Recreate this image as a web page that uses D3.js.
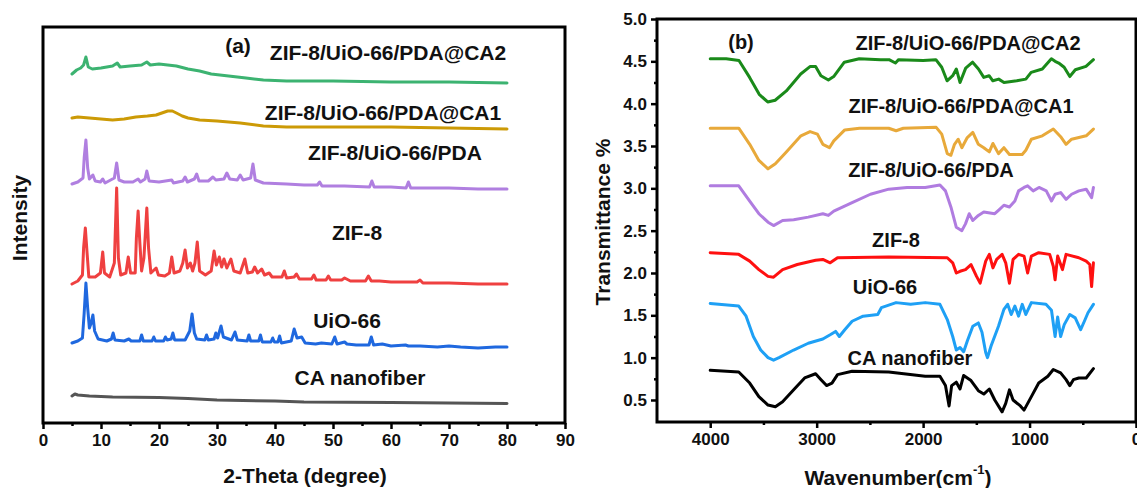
<!DOCTYPE html>
<html>
<head>
<meta charset="utf-8">
<script src="https://cdn.jsdelivr.net/npm/d3@7"></script>
<style>
  html, body { margin: 0; padding: 0; background: #fff; }
  svg text { font-family: "Liberation Sans", Arial, sans-serif; font-weight: bold; fill: #111; }
</style>
</head>
<body>
<svg id="chart" width="1137" height="488"></svg>
<script>
// ---------- (a) XRD patterns: [2-theta (deg), intensity (a.u., stacked)] ----------
const xrdCA = [[5,27],[5.5,29],[6,28],[8,27],[12,26],[20,25.5],[25,24.5],[30,23],[40,22],[45,21],[60,20.5],[70,20],[80,19.5]];
const xrdUiO = [[5,80],[6,82],[6.8,85],[7.1,110],[7.4,140],[7.7,115],[8.0,95],[8.3,100],[8.6,108],[8.9,92],[9.5,84],[11,82],[11.8,84],[12.1,90],[12.4,83],[14,82],[14.8,84],[15.2,82],[16.7,82],[17.0,88],[17.3,82],[18.8,82],[19.1,86],[19.4,82],[20.8,82],[21.1,86],[21.4,83],[22.1,84],[22.4,90],[22.7,83],[24.5,83],[25.3,92],[25.7,109],[26.1,90],[26.5,84],[27.9,83],[28.2,88],[28.5,83],[29.5,84],[29.8,90],[30.1,85],[30.7,97],[31.1,86],[32.5,83],[33.1,91],[33.5,83],[35.2,82],[35.5,88],[35.8,82],[37.2,82],[37.5,88],[37.8,81],[39.3,81],[39.6,85],[39.9,81],[40.5,81],[40.8,87],[41.1,80],[42.8,82],[43.3,94],[43.8,85],[44.6,86],[45.2,80],[47,79],[48,80],[49.8,79],[50.3,86],[50.7,79],[52,81],[52.4,79],[54,78],[56.2,78],[56.6,86],[57,78],[58.5,79],[60,77],[62.5,78],[63,77],[65,77],[68,76],[70,77],[72,76],[75,75],[78,76],[80,76]];
const xrdZIF = [[5,139],[6,142],[6.8,148],[7.0,175],[7.3,195],[7.6,170],[7.9,146],[9,146],[9.9,150],[10.3,171],[10.6,150],[11.5,146],[12.3,160],[12.7,235],[13.0,165],[13.4,148],[14.3,150],[14.7,166],[15.1,150],[15.9,150],[16.1,185],[16.4,212],[16.7,180],[17.0,152],[17.4,165],[17.9,215],[18.2,175],[18.6,150],[19.5,155],[19.9,148],[21.0,147],[21.8,150],[22.2,166],[22.6,150],[23.6,152],[24.1,160],[24.5,173],[24.9,155],[25.4,160],[25.8,152],[26.2,160],[26.6,181],[27.0,152],[28.0,148],[29.0,152],[29.5,172],[29.9,158],[30.4,166],[30.8,156],[31.2,164],[31.7,155],[32.4,164],[32.9,152],[34.0,150],[34.8,164],[35.3,150],[36.1,151],[36.5,156],[37.0,150],[37.7,154],[38.2,148],[39.0,150],[39.5,146],[41.2,146],[41.6,152],[42.0,145],[43.3,146],[43.7,149],[44.2,144],[46.3,144],[46.7,148],[47.1,143],[48.8,143],[49.2,147],[49.6,143],[51.5,143],[52.0,145],[53,142],[55.6,142],[56.1,147],[56.6,142],[58,142],[60,141],[62,141],[64.5,141],[65,143],[65.5,140],[70,140],[75,139],[80,139]];
const xrdPDA = [[5,239],[6,241],[6.9,245],[7.1,265],[7.4,283],[7.7,255],[8.0,244],[8.6,248],[9.0,242],[9.9,241],[10.3,244],[10.7,240],[12.3,245],[12.7,260],[13.1,243],[14,241],[15.5,241],[16.4,244],[16.8,241],[17.6,244],[17.9,252],[18.3,242],[20,241],[22.2,243],[22.5,240],[24.1,242],[24.5,246],[24.9,241],[26.1,244],[26.5,249],[26.9,242],[28.5,242],[29.3,246],[29.8,243],[31.2,244],[31.7,250],[32.2,244],[33.5,243],[34.0,248],[34.5,243],[35.8,245],[36.2,259],[36.6,243],[38,240],[42,239],[45,238],[47.3,238],[47.7,241],[48.1,237],[52,237],[56.3,236],[56.7,242],[57.1,236],[60,236],[62.6,235],[63.0,241],[63.4,235],[66,235],[70,235],[75,234],[80,234]];
const xrdCA1 = [[5,305],[6,306],[8,305],[10,304],[12,303],[14,304],[16,306],[18,307],[19.5,308],[20.5,310],[21.5,312],[22.3,312],[23,310],[24,307],[25,305],[27,303],[30,302],[34,300],[38,297],[42,296],[50,296],[60,296],[70,295],[80,294]];
const xrdCA2 = [[5,349],[5.8,353],[6.5,355],[7.0,358],[7.4,366],[7.8,356],[8.5,354],[10,355],[12,357],[12.8,360],[13.3,356],[15,357],[17,358],[17.9,361],[18.5,358],[20,359],[21.5,358],[23,357],[25,354],[27,352],[29,349],[32,347],[35,345],[38,343],[42,342],[50,342],[60,341],[70,341],[80,340]];

// ---------- (b) FTIR spectra: [wavenumber (cm-1), transmittance (stacked)] ----------
const irCA2 = [[4000,4.53],[3850,4.53],[3730,4.51],[3630,4.31],[3540,4.11],[3460,4.02],[3390,4.04],[3285,4.15],[3150,4.35],[3060,4.44],[3010,4.44],[2960,4.33],[2890,4.28],[2840,4.32],[2740,4.49],[2600,4.53],[2400,4.52],[2320,4.52],[2260,4.48],[2230,4.52],[2000,4.51],[1880,4.52],[1825,4.43],[1775,4.27],[1722,4.33],[1688,4.41],[1653,4.25],[1600,4.42],[1535,4.49],[1480,4.41],[1430,4.31],[1380,4.33],[1345,4.27],[1290,4.29],[1240,4.25],[1120,4.27],[1035,4.29],[985,4.37],[880,4.41],[795,4.53],[760,4.5],[726,4.48],[675,4.43],[622,4.32],[570,4.4],[470,4.44],[400,4.52]];
const irCA1 = [[4000,3.71],[3732,3.71],[3629,3.52],[3543,3.33],[3457,3.23],[3388,3.29],[3285,3.43],[3148,3.62],[3062,3.67],[2993,3.64],[2942,3.52],[2880,3.48],[2839,3.56],[2736,3.69],[2598,3.71],[2323,3.71],[2254,3.68],[2186,3.71],[1877,3.72],[1825,3.64],[1773,3.41],[1739,3.39],[1705,3.52],[1670,3.58],[1636,3.48],[1585,3.6],[1533,3.66],[1481,3.52],[1430,3.48],[1378,3.43],[1344,3.53],[1292,3.41],[1241,3.48],[1189,3.40],[1069,3.40],[1035,3.45],[983,3.58],[880,3.62],[777,3.70],[708,3.61],[657,3.52],[605,3.58],[468,3.62],[400,3.70]];
const irPDA = [[4000,3.03],[3732,3.03],[3629,2.85],[3543,2.70],[3457,2.60],[3405,2.56],[3320,2.62],[3216,2.63],[3079,2.66],[2942,2.70],[2890,2.68],[2839,2.73],[2667,2.83],[2495,2.93],[2323,2.99],[2151,3.01],[1980,3.01],[1842,3.04],[1790,2.97],[1739,2.78],[1688,2.54],[1636,2.50],[1602,2.58],[1567,2.70],[1533,2.62],[1481,2.68],[1430,2.72],[1327,2.70],[1292,2.74],[1241,2.80],[1189,2.78],[1138,2.85],[1103,2.97],[1052,3.01],[1018,3.03],[966,2.97],[911,3.01],[843,2.97],[794,2.85],[760,2.93],[708,2.95],[657,2.87],[605,2.93],[537,2.97],[468,2.99],[417,2.89],[400,3.01]];
const irZIF = [[4000,2.24],[3732,2.22],[3629,2.14],[3543,2.04],[3457,1.96],[3405,1.95],[3320,2.04],[3182,2.10],[3010,2.15],[2942,2.16],[2873,2.12],[2804,2.18],[2323,2.19],[1773,2.18],[1722,2.12],[1688,2.0],[1653,2.02],[1602,2.04],[1550,2.10],[1498,1.96],[1464,1.88],[1412,2.14],[1378,2.22],[1344,2.06],[1309,2.16],[1258,2.22],[1224,2.12],[1189,1.88],[1155,2.16],[1103,2.22],[1052,2.20],[1018,2.0],[983,2.20],[914,2.24],[811,2.22],[777,2.08],[760,1.92],[736,2.20],[691,2.04],[657,2.22],[537,2.18],[468,2.14],[434,2.10],[417,1.84],[400,2.12]];
const irUiO = [[4000,1.64],[3732,1.61],[3663,1.49],[3595,1.25],[3526,1.09],[3457,1.0],[3405,0.97],[3354,1.0],[3216,1.09],[3079,1.17],[2942,1.22],[2873,1.27],[2822,1.31],[2787,1.25],[2736,1.33],[2667,1.43],[2564,1.49],[2426,1.51],[2392,1.59],[2254,1.65],[2117,1.63],[1980,1.65],[1842,1.63],[1773,1.45],[1722,1.25],[1688,1.09],[1653,1.12],[1619,1.07],[1584,1.2],[1533,1.37],[1481,1.41],[1447,1.3],[1412,1.06],[1395,1.0],[1361,1.14],[1292,1.37],[1241,1.57],[1206,1.63],[1172,1.51],[1138,1.61],[1103,1.49],[1069,1.63],[1035,1.51],[983,1.65],[846,1.63],[794,1.56],[760,1.25],[736,1.48],[708,1.25],[674,1.39],[622,1.51],[571,1.47],[520,1.33],[485,1.43],[451,1.53],[400,1.63]];
const irCA = [[4000,0.85],[3732,0.83],[3629,0.70],[3543,0.54],[3457,0.44],[3388,0.42],[3320,0.48],[3216,0.62],[3113,0.76],[3010,0.81],[2959,0.74],[2907,0.67],[2856,0.70],[2804,0.80],[2667,0.84],[2323,0.83],[1980,0.78],[1842,0.78],[1790,0.67],[1756,0.43],[1732,0.67],[1688,0.71],[1653,0.63],[1619,0.79],[1550,0.73],[1481,0.61],[1430,0.57],[1378,0.63],[1327,0.50],[1258,0.36],[1224,0.46],[1189,0.62],[1155,0.50],[1086,0.43],[1052,0.38],[983,0.54],[914,0.70],[828,0.78],[777,0.86],[708,0.82],[657,0.74],[622,0.67],[588,0.74],[537,0.76],[468,0.76],[400,0.87]];

// series names / labels
const seriesLabels = ["ZIF-8/UiO-66/PDA@CA2", "ZIF-8/UiO-66/PDA@CA1", "ZIF-8/UiO-66/PDA", "ZIF-8", "UiO-66", "CA nanofiber"];
const xrdSeries = [xrdCA2, xrdCA1, xrdPDA, xrdZIF, xrdUiO, xrdCA];
const irSeries = [irCA2, irCA1, irPDA, irZIF, irUiO, irCA];
const xrdColors = ["#3CB371", "#CC9A06", "#B07FE0", "#EF4040", "#1F68DF", "#555555"];
const irColors = ["#1A8A1A", "#E8A93A", "#B07CE0", "#FF1010", "#1EA0F5", "#000000"];

// tick values
const xrdTicks = [0, 10, 20, 30, 40, 50, 60, 70, 80, 90];
const irXTicks = [4000, 3000, 2000, 1000, 0];
const irYTicks = [0.5, 1.0, 1.5, 2.0, 2.5, 3.0, 3.5, 4.0, 4.5, 5.0];

const svg = d3.select("#chart");

function styleTicks(g, withText) {
  g.select(".domain").remove();
  g.selectAll(".tick line").attr("stroke", "#000").attr("stroke-width", 2.5);
  if (withText) {
    g.selectAll(".tick text").attr("font-size", 17).attr("fill", "#111")
      .attr("font-family", "Liberation Sans, Arial, sans-serif").attr("font-weight", "bold");
  }
}

// ================= panel (a) =================
const A = { left: 43, right: 565, top: 27, bottom: 423 };
const xA = d3.scaleLinear().domain([0, 90]).range([A.left, A.right]);
const yA = d3.scaleLinear().domain([0, 396]).range([A.bottom, A.top]);

const gA = svg.append("g");
const lineA = d3.line().x(d => xA(d[0])).y(d => yA(d[1]));
xrdSeries.forEach((s, i) => {
  gA.append("path").datum(s).attr("d", lineA)
    .attr("fill", "none").attr("stroke", xrdColors[i])
    .attr("stroke-width", 3).attr("stroke-linejoin", "round").attr("stroke-linecap", "round");
});

// bottom axis with major/minor ticks
styleTicks(gA.append("g").attr("transform", `translate(0,${A.bottom})`)
  .call(d3.axisBottom(xA).tickValues(xrdTicks).tickFormat(d3.format("d")).tickSize(6).tickPadding(5)), true);
styleTicks(gA.append("g").attr("transform", `translate(0,${A.bottom})`)
  .call(d3.axisBottom(xA).tickValues(d3.range(5, 90, 10)).tickFormat("").tickSize(3)), false);

gA.append("rect").attr("x", A.left).attr("y", A.top)
  .attr("width", A.right - A.left).attr("height", A.bottom - A.top)
  .attr("fill", "none").attr("stroke", "#000").attr("stroke-width", 3);

gA.append("text").attr("x", (A.left + A.right) / 2 + 1).attr("y", 475)
  .attr("text-anchor", "middle").attr("dominant-baseline", "central")
  .attr("font-size", 21).text("2-Theta (degree)");
gA.append("text").attr("transform", "translate(19,218) rotate(-90)")
  .attr("text-anchor", "middle").attr("dominant-baseline", "central")
  .attr("font-size", 21).text("Intensity");

const labA = [[388, 52], [383, 112], [395, 152], [357, 232], [347, 320], [360, 377]];
gA.append("text").attr("x", 238).attr("y", 45).attr("text-anchor", "middle")
  .attr("dominant-baseline", "central").attr("font-size", 21).text("(a)");
seriesLabels.forEach((t, i) => {
  gA.append("text").attr("x", labA[i][0]).attr("y", labA[i][1])
    .attr("text-anchor", "middle").attr("dominant-baseline", "central")
    .attr("font-size", 21).text(t);
});

// ================= panel (b) =================
const B = { left: 657, right: 1136, top: 19, bottom: 422 };
const xB = d3.scaleLinear().domain([4500, 0]).range([B.left, B.right]);
const yB = d3.scaleLinear().domain([0.24, 5.0]).range([B.bottom, B.top]);

const gB = svg.append("g");
const lineB = d3.line().x(d => xB(d[0])).y(d => yB(d[1]));
irSeries.forEach((s, i) => {
  gB.append("path").datum(s).attr("d", lineB)
    .attr("fill", "none").attr("stroke", irColors[i])
    .attr("stroke-width", 3).attr("stroke-linejoin", "round").attr("stroke-linecap", "round");
});

styleTicks(gB.append("g").attr("transform", `translate(0,${B.bottom})`)
  .call(d3.axisBottom(xB).tickValues(irXTicks).tickFormat(d3.format("d")).tickSize(6).tickPadding(5)), true);
styleTicks(gB.append("g").attr("transform", `translate(0,${B.bottom})`)
  .call(d3.axisBottom(xB).tickValues(d3.range(500, 4500, 1000)).tickFormat("").tickSize(3)), false);
styleTicks(gB.append("g").attr("transform", `translate(${B.left},0)`)
  .call(d3.axisLeft(yB).tickValues(irYTicks).tickFormat(d3.format(".1f")).tickSize(6).tickPadding(4)), true);
styleTicks(gB.append("g").attr("transform", `translate(${B.left},0)`)
  .call(d3.axisLeft(yB).tickValues(d3.range(0.75, 5.0, 0.5)).tickFormat("").tickSize(3)), false);

gB.append("rect").attr("x", B.left).attr("y", B.top)
  .attr("width", B.right - B.left).attr("height", B.bottom - B.top)
  .attr("fill", "none").attr("stroke", "#000").attr("stroke-width", 3);

const wt = gB.append("text").attr("x", 898).attr("y", 477)
  .attr("text-anchor", "middle").attr("dominant-baseline", "central").attr("font-size", 21);
wt.append("tspan").text("Wavenumber(cm");
wt.append("tspan").attr("font-size", 13).attr("dy", -8).text("-1");
wt.append("tspan").attr("dy", 8).text(")");
gB.append("text").attr("transform", "translate(602,222) rotate(-90)")
  .attr("text-anchor", "middle").attr("dominant-baseline", "central")
  .attr("font-size", 21).text("Transmittance %");

const labB = [[968, 43], [961, 106], [931, 170], [896, 240], [885, 287], [910, 358]];
gB.append("text").attr("x", 741).attr("y", 42).attr("text-anchor", "middle")
  .attr("dominant-baseline", "central").attr("font-size", 20).text("(b)");
seriesLabels.forEach((t, i) => {
  gB.append("text").attr("x", labB[i][0]).attr("y", labB[i][1])
    .attr("text-anchor", "middle").attr("dominant-baseline", "central")
    .attr("font-size", 20).text(t);
});
</script>
</body>
</html>
